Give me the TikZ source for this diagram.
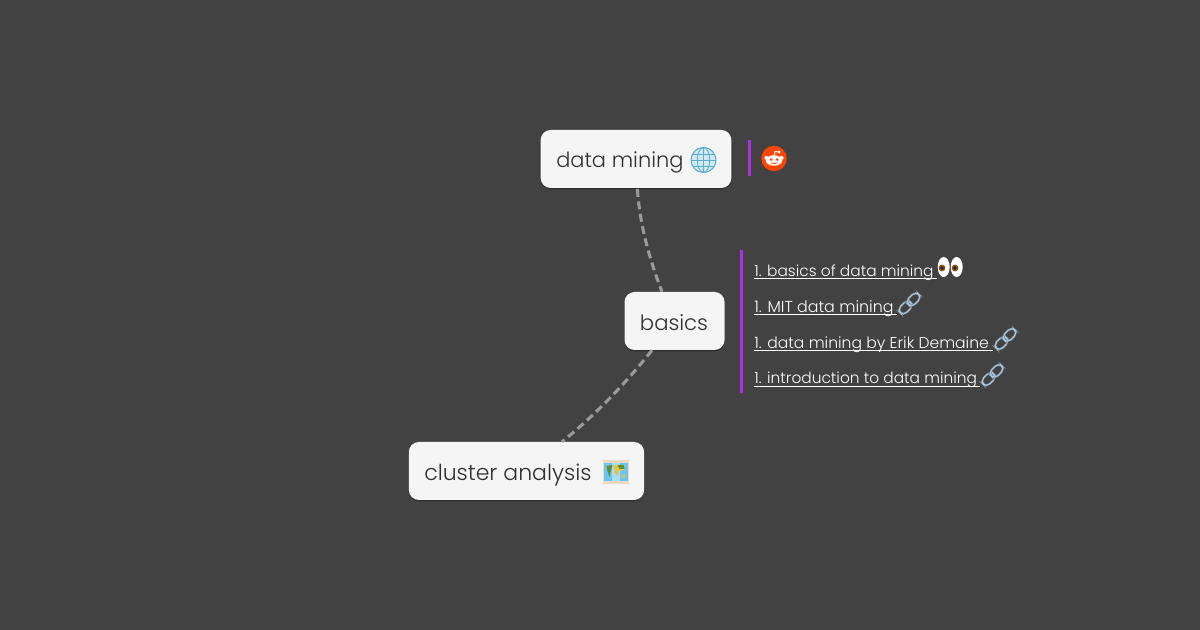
\documentclass[tikz,border=0pt]{standalone}
\usepackage{fontspec}
\setmainfont{Poppins}[UprightFont=* Light]
\usetikzlibrary{shadows}
\definecolor{bgc}{HTML}{424242}
\definecolor{boxc}{HTML}{F5F5F5}
\definecolor{inkc}{HTML}{303030}
\definecolor{barc}{HTML}{A832E0}
\definecolor{edgec}{HTML}{9A9A9A}
\definecolor{globec}{HTML}{8FD0EA}
\definecolor{globel}{HTML}{5FA8C8}
\definecolor{redd}{HTML}{FF4500}
\definecolor{linkc}{HTML}{A9C8E0}
\definecolor{linkd}{HTML}{77808A}
\definecolor{mapb}{HTML}{6FC4EE}
\definecolor{mapg}{HTML}{5E8F2C}
\definecolor{mapy}{HTML}{E3C34A}
\definecolor{mapf}{HTML}{EBD9C8}
\definecolor{brw}{HTML}{8A5414}
\tikzset{
  x=0.75pt,y=-0.75pt,
  topic/.style={rounded corners=7.5pt,fill=boxc,inner sep=0pt,anchor=center,
     drop shadow={shadow xshift=0pt,shadow yshift=-1pt,opacity=.28,fill=black}},
  topictext/.style={text=inkc,font=\fontsize{#1}{20}\selectfont,inner sep=0pt},
  conn/.style={edgec,line width=2.3pt,dash pattern=on 6pt off 3.4pt},
  bar/.style={fill=barc,draw=none,inner sep=0pt},
  linktext/.style={text=white,font=\fontsize{#1}{15}\selectfont,anchor=base west,inner sep=0pt},
  ul/.style={draw=white,line width=.7pt}
}
\newcommand{\chainicon}[2]{%
  \begin{scope}[shift={(#1,#2)},rotate=45]
    \draw[linkd,line width=1.5pt,rounded corners=3.6pt] (-13,-4.300) rectangle (1.5,4.300);
    \draw[linkc,line width=.8pt,rounded corners=3.6pt] (-13,-4.300) rectangle (1.5,4.300);
    \draw[linkd,line width=1.5pt,rounded corners=3.6pt] (-1.5,-4.300) rectangle (13,4.300);
    \draw[linkc,line width=.8pt,rounded corners=3.6pt] (-1.5,-4.300) rectangle (13,4.300);
  \end{scope}}
\begin{document}
\begin{tikzpicture}
\useasboundingbox[fill=bgc] (0,0) rectangle (1200,630);
% nodes
\node[topic,minimum width=143pt,minimum height=43.5pt] (dm) at (636,159) {};
\node[topic,minimum width=75pt,minimum height=43.5pt] (ba) at (674.5,321) {};
\node[topic,minimum width=176.5pt,minimum height=43.5pt] (ca) at (526.5,471) {};
\node[topictext=15.7,anchor=base west] (dmt) at (556,168) {data mining};
\node[topictext=15.9,anchor=base] (bat) at (674,331) {basics};
\node[topictext=16.5,anchor=base west] (cat) at (424,481) {cluster analysis};
% connectors
\draw[conn] ([xshift=1pt,yshift=-.5pt]dm.south) .. controls (640,225) and (649,258) .. ([xshift=-9.4pt]ba.north);
\draw[conn] ([xshift=-16.9pt]ba.south) .. controls (630,378) and (597,414) .. ([xshift=26.6pt]ca.north);
% globe
\begin{scope}[shift={(703.5,160)}]
  \fill[globec!45] (0,0) circle (12.5);
  \draw[globel,line width=.75pt] (0,0) circle (12.5);
  \draw[globel,line width=.6pt] (0,-12.5) -- (0,12.5) (-12.5,0) -- (12.5,0)
     (-11,-6) -- (11,-6) (-11,6) -- (11,6);
  \draw[globel,line width=.6pt] (0,0) ellipse (6.2 and 12.5);
\end{scope}
% bars
\node[bar,minimum width=2.25pt,minimum height=27pt] (b1) at (749.5,158) {};
\node[bar,minimum width=2.25pt,minimum height=107pt] (b2) at (741.5,321.5) {};
% reddit
\begin{scope}[shift={(774,158.5)}]
  \fill[redd] (0,0) circle (12.7);
  \fill[white] (0,2) ellipse (8.2 and 5.2);
  \fill[white] (-7.6,-.6) circle (2) (7.6,-.6) circle (2);
  \draw[white,line width=.7pt] (0,-2) -- (1,-7) -- (4.5,-6.5);
  \fill[white] (5,-6.5) circle (1.6);
  \fill[redd] (-3,1) circle (1.5) (3,1) circle (1.5);
  \draw[redd,line width=.6pt] (-3,4.3) .. controls (-1,5.6) and (1,5.6) .. (3,4.3);
\end{scope}
% links
\node[linktext=11.55] (l1) at (754,276.5) {1. basics of data mining};
\node[linktext=11.9] (l2) at (754,312.5) {1. MIT data mining};
\node[linktext=11.7] (l3) at (754,348.5) {1. data mining by Erik Demaine};
\node[linktext=11.55] (l4) at (754,383.5) {1. introduction to data mining};
\draw[ul] (754,278.5) -- (937,278.5);
\draw[ul] (754,314.5) -- (897,314.5);
\draw[ul] (754,350.5) -- (993,350.5);
\draw[ul] (754,386) -- (980,386);
% eyes
\begin{scope}[shift={(950,267)}]
  \fill[white] (-6.300,0) ellipse (6 and 10);
  \fill[white] (6.700,0) ellipse (6 and 10);
  \fill[brw] (-8,1) circle (3.4) (5,1) circle (3.4);
  \fill[black!85] (-8,1) circle (1.8) (5,1) circle (1.8);
\end{scope}
\chainicon{909.5}{303.5}
\chainicon{1005.5}{339}
\chainicon{992.5}{375}
% map
\begin{scope}[shift={(615.5,472)}]
  \fill[mapf] (-13,-12) rectangle (13,12);
  \fill[mapb] (-12,-9) rectangle (12,9);
  \fill[mapb!60!white] (-4,-9) rectangle (4,9);
  \fill[mapg] (-9,-6) -- (-3,-7) -- (-5,0) -- (-6,5) -- (-8,-1) -- cycle;
  \fill[mapy] (-2,-7) -- (8,-7) -- (9,-2) -- (3,-1) -- (2,4) -- (-1,1) -- cycle;
  \fill[mapg] (2,-7) -- (8,-7) -- (9,-3) -- (4,-3) -- cycle;
  \fill[mapy] (6,3) -- (10,3) -- (9,6) -- (6,5) -- cycle;
\end{scope}
\end{tikzpicture}
\end{document}
